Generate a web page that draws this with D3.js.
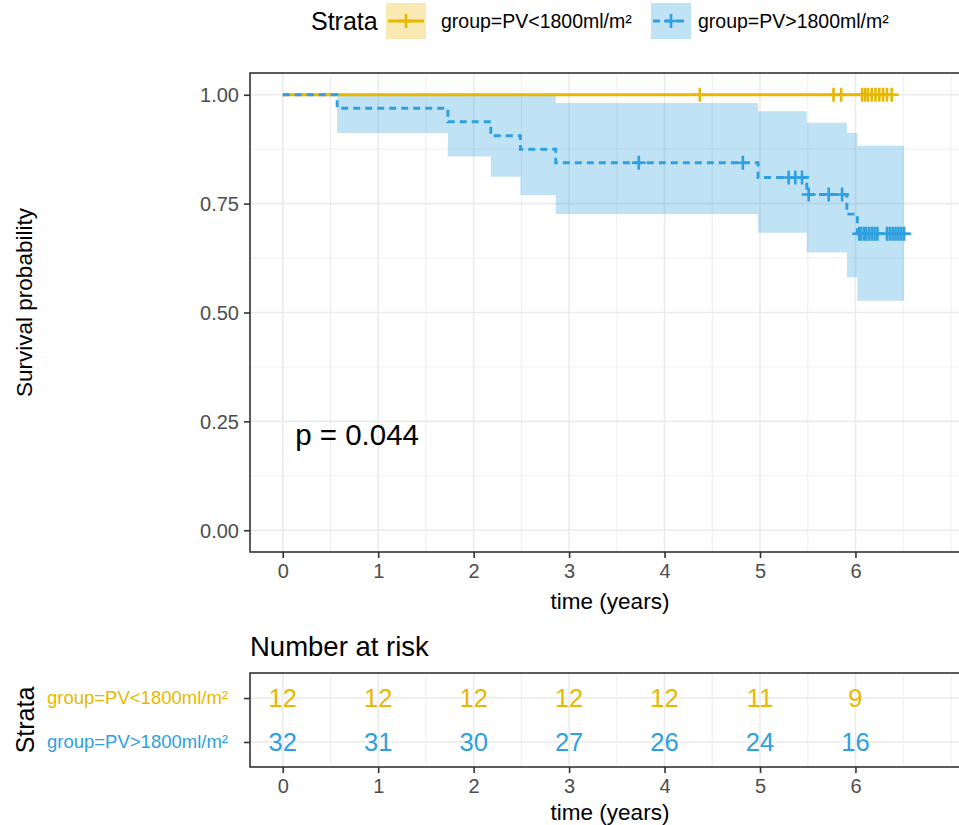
<!DOCTYPE html>
<html><head><meta charset="utf-8">
<script src="https://cdn.jsdelivr.net/npm/d3@7"></script>
<style>body{margin:0;background:#fff} svg{display:block} text{font-family:"Liberation Sans",Arial,sans-serif}</style>
</head><body><svg id="c" width="959" height="825"></svg>
<script>
const groups = ["group=PV<1800ml/m²", "group=PV>1800ml/m²"];
const colors = ["#E7B800", "#2E9FDF"];
const xTicks = [0, 1, 2, 3, 4, 5, 6];
const xMinor = [0.5, 1.5, 2.5, 3.5, 4.5, 5.5, 6.5, 7];
const yTicks = [0, 0.25, 0.5, 0.75, 1];
const yMinor = [0.125, 0.375, 0.625, 0.875];
const yTickLabels = ["0.00", "0.25", "0.50", "0.75", "1.00"];
// PV<1800 group
const lowTimes = [0];
const lowSurv = [1];
const lowUpper = [1];
const lowLower = [1];
const lowEnd = 6.38;
const lowCensor = [4.37, 5.77, 5.85, 6.07, 6.10, 6.13, 6.17, 6.21, 6.25, 6.29, 6.33, 6.38];
// PV>1800 group
const highTimes = [0, 0.57, 1.73, 2.18, 2.49, 2.86, 4.98, 5.49, 5.91, 6.02];
const highSurv = [1, 0.969, 0.938, 0.906, 0.875, 0.844, 0.810, 0.771, 0.726, 0.681];
const highUpper = [1, 1, 1, 1, 1, 0.981, 0.962, 0.936, 0.912, 0.883];
const highLower = [1, 0.912, 0.858, 0.812, 0.770, 0.726, 0.683, 0.638, 0.581, 0.527];
const highEnd = 6.51;
const highCensor = [3.73, 4.82, 5.30, 5.37, 5.44, 5.51, 5.72, 5.86, 6.04, 6.06, 6.09, 6.11, 6.14, 6.17, 6.20, 6.23, 6.33, 6.36, 6.39, 6.42, 6.45, 6.48, 6.51];
// risk table
const riskTimes = [0, 1, 2, 3, 4, 5, 6];
const riskLow = [12, 12, 12, 12, 12, 11, 9];
const riskHigh = [32, 31, 30, 27, 26, 24, 16];
const pText = "p = 0.044";

const series = [
  {name: groups[0], color: colors[0], times: lowTimes, surv: lowSurv, upper: lowUpper, lower: lowLower, end: lowEnd, censor: lowCensor, dash: null},
  {name: groups[1], color: colors[1], times: highTimes, surv: highSurv, upper: highUpper, lower: highLower, end: highEnd, censor: highCensor, dash: "7,5"}
];

const svg = d3.select("#c");
const FONT = '"Liberation Sans",Arial,sans-serif';
const M = {l: 250, r: 970, t: 73, b: 552};
const x = d3.scaleLinear().domain([-0.343, 7.2]).range([M.l, M.r]);
const y = d3.scaleLinear().domain([-0.05, 1.05]).range([M.b, M.t]);
const clipId = "clipMain";
svg.append("defs").append("clipPath").attr("id", clipId)
  .append("rect").attr("x", M.l).attr("y", M.t).attr("width", M.r - M.l).attr("height", M.b - M.t);

const main = svg.append("g");
// grid
const grid = main.append("g").attr("clip-path", `url(#${clipId})`);
grid.selectAll(".xm").data(xMinor).join("line")
  .attr("x1", d => x(d)).attr("x2", d => x(d)).attr("y1", M.t).attr("y2", M.b)
  .attr("stroke", "#EBEBEB").attr("stroke-width", 0.8);
grid.selectAll(".ym").data(yMinor).join("line")
  .attr("x1", M.l).attr("x2", M.r).attr("y1", d => y(d)).attr("y2", d => y(d))
  .attr("stroke", "#EBEBEB").attr("stroke-width", 0.8);
grid.selectAll(".xM").data(xTicks).join("line")
  .attr("x1", d => x(d)).attr("x2", d => x(d)).attr("y1", M.t).attr("y2", M.b)
  .attr("stroke", "#EBEBEB").attr("stroke-width", 1.6);
grid.selectAll(".yM").data(yTicks).join("line")
  .attr("x1", M.l).attr("x2", M.r).attr("y1", d => y(d)).attr("y2", d => y(d))
  .attr("stroke", "#EBEBEB").attr("stroke-width", 1.6);

function stepPts(s, key) {
  const pts = s.times.map((t, i) => [t, s[key][i]]);
  pts.push([s.end, s[key][s[key].length - 1]]);
  return pts;
}
function survAt(s, t) {
  let v = s.surv[0];
  s.times.forEach((tt, i) => { if (tt <= t) v = s.surv[i]; });
  return v;
}
const plotG = main.append("g").attr("clip-path", `url(#${clipId})`);
// ribbons
series.forEach(s => {
  const up = stepPts(s, "upper"), lo = stepPts(s, "lower");
  const data = up.map((p, i) => ({t: p[0], u: p[1], l: lo[i][1]}));
  plotG.append("path").datum(data)
    .attr("d", d3.area().curve(d3.curveStepAfter).x(d => x(d.t)).y0(d => y(d.l)).y1(d => y(d.u)))
    .attr("fill", s.color).attr("fill-opacity", 0.3);
});
// lines
series.forEach(s => {
  plotG.append("path").datum(stepPts(s, "surv"))
    .attr("d", d3.line().curve(d3.curveStepAfter).x(d => x(d[0])).y(d => y(d[1])))
    .attr("fill", "none").attr("stroke", s.color).attr("stroke-width", 2.9)
    .attr("stroke-dasharray", s.dash);
});
// censor marks
series.forEach(s => {
  const g = plotG.append("g");
  s.censor.forEach(t => {
    const cx = x(t), cy = y(survAt(s, t));
    g.append("path").attr("d", `M${cx - 7},${cy}H${cx + 7}M${cx},${cy - 7}V${cy + 7}`)
      .attr("stroke", s.color).attr("stroke-width", 2.6).attr("fill", "none");
  });
});
// border
main.append("rect").attr("x", M.l).attr("y", M.t).attr("width", M.r - M.l).attr("height", M.b - M.t)
  .attr("fill", "none").attr("stroke", "#333333").attr("stroke-width", 1.6);

// axes
const xAxis = d3.axisBottom(x).tickValues(xTicks).tickSize(6).tickPadding(6).tickFormat(d3.format("d"));
const gx = main.append("g").attr("transform", `translate(0,${M.b})`).call(xAxis);
const yAxis = d3.axisLeft(y).tickValues(yTicks).tickSize(6).tickPadding(5).tickFormat((d, i) => yTickLabels[i]);
const gy = main.append("g").attr("transform", `translate(${M.l},0)`).call(yAxis);
[gx, gy].forEach(g => {
  g.select(".domain").remove();
  g.selectAll(".tick line").attr("stroke", "#333333").attr("stroke-width", 1.6);
  g.selectAll(".tick text").attr("fill", "#4D4D4D").attr("font-size", 20).attr("font-family", FONT);
});
gy.selectAll(".tick text").attr("dy", "0.35em");

main.append("text").attr("x", (M.l + M.r) / 2).attr("y", 609).attr("text-anchor", "middle")
  .attr("font-size", 22.5).attr("fill", "#000").text("time (years)");
main.append("text").attr("transform", `translate(32,${(M.t + M.b) / 2 - 10}) rotate(-90)`).attr("text-anchor", "middle")
  .attr("font-size", 22.5).attr("fill", "#000").text("Survival probability");
main.append("text").attr("x", x(0.13)).attr("y", y(0.195)).attr("font-size", 29.5).attr("fill", "#000").text(pText);

// legend
const leg = svg.append("g");
leg.append("text").attr("x", 311).attr("y", 30).attr("font-size", 25).attr("fill", "#000").text("Strata");
const legX = [386, 651];
const legTextX = [441, 698];
series.forEach((s, i) => {
  const kx = legX[i], ky = 3, kw = 40, kh = 36;
  leg.append("rect").attr("x", kx).attr("y", ky).attr("width", kw).attr("height", kh)
    .attr("fill", s.color).attr("fill-opacity", 0.3);
  const cy = ky + kh / 2, cx = kx + kw / 2;
  leg.append("line").attr("x1", kx + 2).attr("x2", kx + kw - 2).attr("y1", cy).attr("y2", cy)
    .attr("stroke", s.color).attr("stroke-width", 2.9).attr("stroke-dasharray", s.dash);
  leg.append("path").attr("d", `M${cx - 7},${cy}H${cx + 7}M${cx},${cy - 7}V${cy + 7}`)
    .attr("stroke", s.color).attr("stroke-width", 2.6);
  leg.append("text").attr("x", legTextX[i]).attr("y", cy).attr("dy", "0.35em").attr("font-size", 19.5)
    .attr("fill", "#000").text(s.name);
});

// risk table
const R = {t: 673, b: 767};
const ry = d3.scalePoint().domain(groups).range([R.t, R.b]).padding(0.57);
const risk = svg.append("g");
risk.append("text").attr("x", 250).attr("y", 656).attr("font-size", 27.5).attr("fill", "#000").text("Number at risk");
const rclip = "clipRisk";
svg.select("defs").append("clipPath").attr("id", rclip)
  .append("rect").attr("x", M.l).attr("y", R.t).attr("width", M.r - M.l).attr("height", R.b - R.t);
const rg = risk.append("g").attr("clip-path", `url(#${rclip})`);
rg.selectAll(".xm").data(xMinor).join("line")
  .attr("x1", d => x(d)).attr("x2", d => x(d)).attr("y1", R.t).attr("y2", R.b)
  .attr("stroke", "#EBEBEB").attr("stroke-width", 0.8);
rg.selectAll(".xM").data(xTicks).join("line")
  .attr("x1", d => x(d)).attr("x2", d => x(d)).attr("y1", R.t).attr("y2", R.b)
  .attr("stroke", "#EBEBEB").attr("stroke-width", 1.6);
rg.selectAll(".yM").data(groups).join("line")
  .attr("x1", M.l).attr("x2", M.r).attr("y1", d => ry(d)).attr("y2", d => ry(d))
  .attr("stroke", "#EBEBEB").attr("stroke-width", 1.6);
const riskVals = [riskLow, riskHigh];
groups.forEach((gname, gi) => {
  rg.selectAll(null).data(riskTimes).join("text")
    .attr("x", d => x(d)).attr("y", ry(gname)).attr("dy", "0.35em").attr("text-anchor", "middle")
    .attr("font-size", 25.5).attr("fill", colors[gi]).text((d, i) => riskVals[gi][i]);
});
risk.append("rect").attr("x", M.l).attr("y", R.t).attr("width", M.r - M.l).attr("height", R.b - R.t)
  .attr("fill", "none").attr("stroke", "#333333").attr("stroke-width", 1.6);
const rx = risk.append("g").attr("transform", `translate(0,${R.b})`).call(xAxis);
const ryAxis = risk.append("g").attr("transform", `translate(${M.l},0)`).call(d3.axisLeft(ry).tickSize(6).tickPadding(16));
[rx, ryAxis].forEach(g => {
  g.select(".domain").remove();
  g.selectAll(".tick line").attr("stroke", "#333333").attr("stroke-width", 1.6);
  g.selectAll(".tick text").attr("font-family", FONT);
});
rx.selectAll(".tick text").attr("fill", "#4D4D4D").attr("font-size", 20);
ryAxis.selectAll(".tick text").attr("fill", (d, i) => colors[i]).attr("font-size", 18.5);
risk.append("text").attr("x", (M.l + M.r) / 2).attr("y", 820).attr("text-anchor", "middle")
  .attr("font-size", 22.5).attr("fill", "#000").text("time (years)");
risk.append("text").attr("transform", `translate(34,${(R.t + R.b) / 2}) rotate(-90)`).attr("text-anchor", "middle")
  .attr("font-size", 25).attr("fill", "#000").text("Strata");
</script></body></html>
